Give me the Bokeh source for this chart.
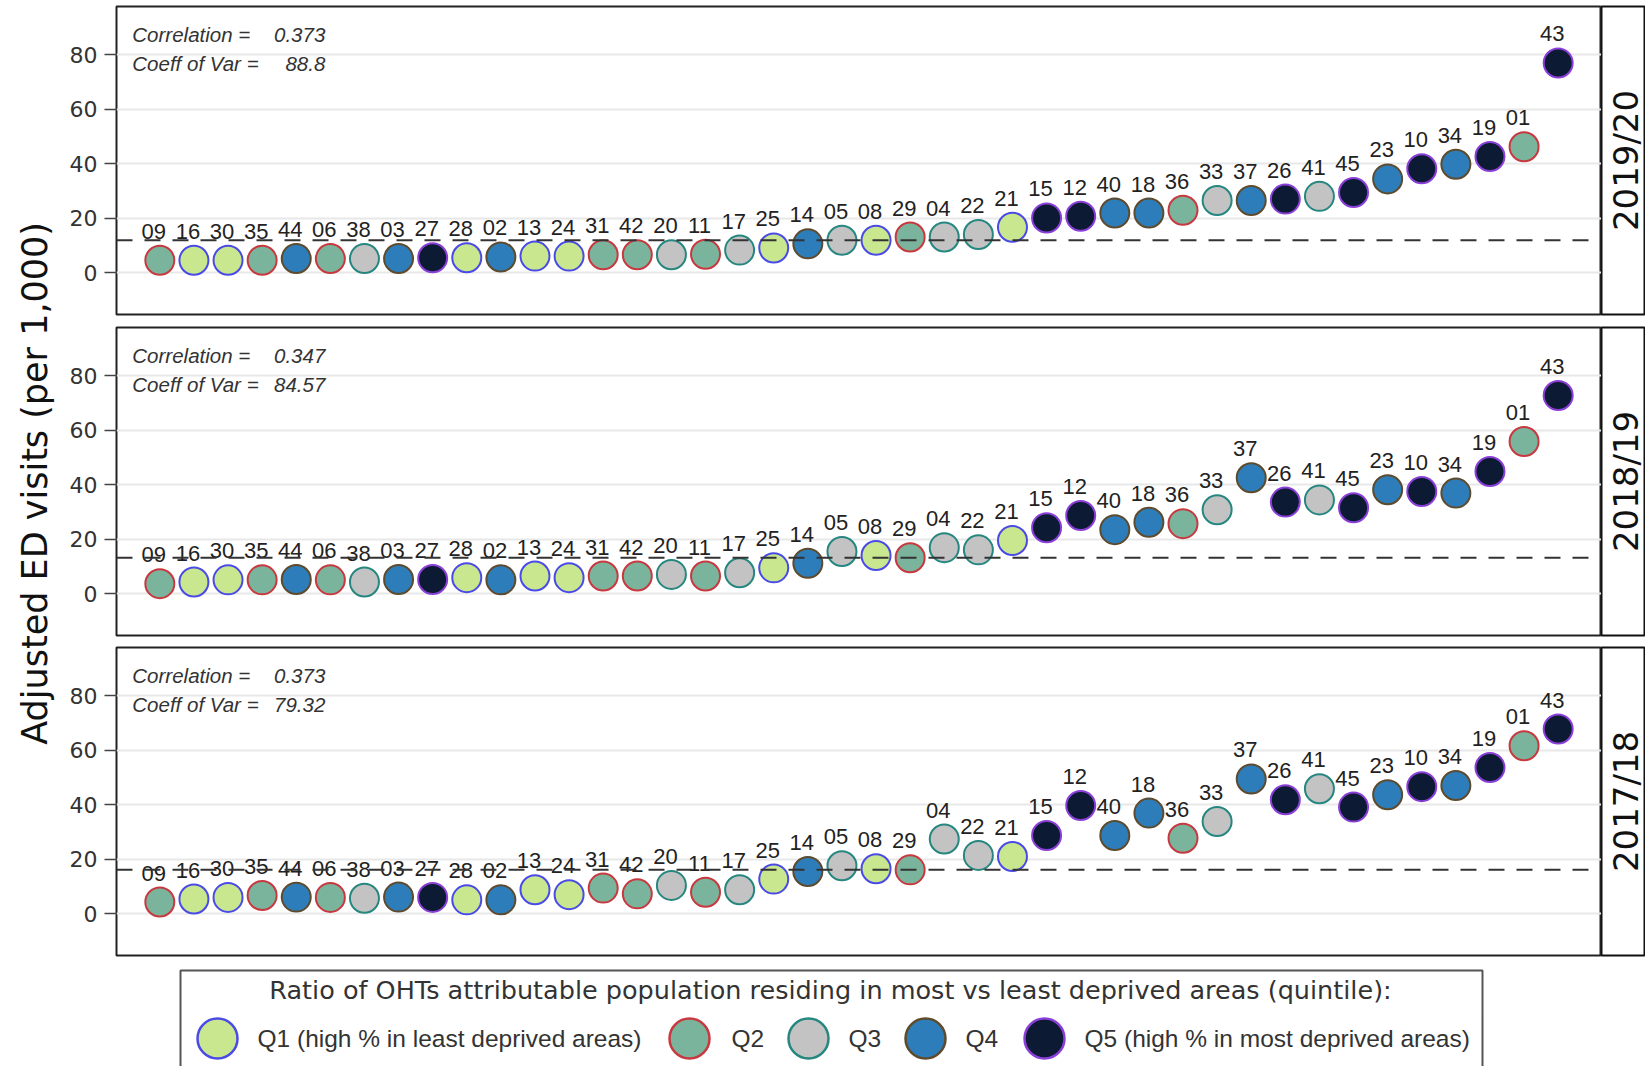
import math
from bokeh.plotting import figure
from bokeh.models import FactorRange, Range1d, FixedTicker, Span, ColumnDataSource
from bokeh.layouts import row, column
from bokeh.embed import file_html
from bokeh.resources import INLINE
from bokeh.core.properties import value

# ---------------- data ----------------
codes = ["09", "16", "30", "35", "44", "06", "38", "03", "27", "28", "02", "13", "24", "31",
         "42", "20", "11", "17", "25", "14", "05", "08", "29", "04", "22", "21", "15", "12",
         "40", "18", "36", "33", "37", "26", "41", "45", "23", "10", "34", "19", "01", "43"]

quintile = ["Q2", "Q1", "Q1", "Q2", "Q4", "Q2", "Q3", "Q4", "Q5", "Q1", "Q4", "Q1", "Q1", "Q2",
            "Q2", "Q3", "Q2", "Q3", "Q1", "Q4", "Q3", "Q1", "Q2", "Q3", "Q3", "Q1", "Q5", "Q5",
            "Q4", "Q4", "Q2", "Q3", "Q4", "Q5", "Q3", "Q5", "Q4", "Q5", "Q4", "Q5", "Q2", "Q5"]

visits_2019_20 = [4.6, 4.6, 4.6, 4.6, 5.2, 5.2, 5.2, 5.2, 5.5, 5.5, 5.8, 6.1, 6.1, 6.6,
                  6.6, 6.6, 6.8, 8.3, 9.1, 10.6, 11.9, 11.9, 13.1, 13.1, 14.0, 16.7, 20.1, 20.7,
                  21.9, 21.9, 22.9, 26.5, 26.5, 27.0, 28.0, 29.4, 34.4, 38.1, 39.8, 42.6, 46.2, 76.9]

visits_2018_19 = [3.7, 4.3, 5.1, 5.1, 5.2, 5.1, 4.3, 5.2, 5.2, 5.9, 5.1, 6.5, 5.9, 6.5,
                  6.5, 7.1, 6.5, 7.7, 9.5, 11.2, 15.5, 14.0, 13.2, 16.9, 16.1, 19.5, 24.2, 28.7,
                  23.5, 26.2, 25.7, 30.8, 42.5, 33.6, 34.4, 31.5, 38.1, 37.5, 36.9, 44.8, 55.8, 72.7]

visits_2017_18 = [4.3, 5.4, 6.0, 6.7, 6.1, 6.0, 5.7, 6.1, 6.0, 5.1, 5.1, 8.8, 7.0, 9.4,
                  7.3, 10.4, 7.9, 8.8, 12.7, 15.5, 17.6, 16.5, 16.1, 27.4, 21.4, 21.0, 28.7, 39.7,
                  28.7, 36.9, 27.7, 33.8, 49.4, 41.8, 45.8, 39.1, 43.6, 46.6, 47.0, 53.6, 61.6, 67.7]

years = ["2019/20", "2018/19", "2017/18"]
reference_line = [11.9, 13.2, 16.1]
correlation = ["0.373", "0.347", "0.373"]
coeff_of_var = ["88.8", "84.57", "79.32"]

y_ticks = [0, 20, 40, 60, 80]
y_label = "Adjusted ED visits (per 1,000)"

quintile_names = ["Q1", "Q2", "Q3", "Q4", "Q5"]
quintile_labels = ["Q1 (high % in least deprived areas)", "Q2", "Q3", "Q4",
                   "Q5 (high % in most deprived areas)"]
legend_title = "Ratio of OHTs attributable population residing in most vs least deprived areas (quintile):"

# ---------------- styles ----------------
FILL = {"Q1": "#c8e78f", "Q2": "#7ab49d", "Q3": "#c3c3c3", "Q4": "#2d7dba", "Q5": "#0c1b33"}
EDGE = {"Q1": "#4a4ae6", "Q2": "#c8393f", "Q3": "#25877f", "Q4": "#5e4b2e", "Q5": "#8b3fd9"}

YLAB_W = 58
LEFT = 58
FRAME_W = 1485
STRIP_W = 44
FRAME_H = 308
Y_START, Y_END = -15.3, 97.6
borders = [(6, 6), (7, 6), (6, 5)]
series = [visits_2019_20, visits_2018_19, visits_2017_18]
ANN_FONT = "20.5px"


def make_panel(vals, ref, corr, cov, btop, bbot):
    p = figure(width=LEFT + FRAME_W, height=btop + FRAME_H + bbot,
               x_range=FactorRange(factors=codes, range_padding=0.77,
                                   range_padding_units="absolute"),
               y_range=Range1d(Y_START, Y_END),
               x_axis_location=None, toolbar_location=None, output_backend="svg",
               min_border_left=LEFT, min_border_right=0,
               min_border_top=btop, min_border_bottom=bbot)
    p.outline_line_color = "#222222"
    p.outline_line_width = 2
    p.xgrid.visible = False
    p.ygrid.grid_line_color = "#e8e8e8"
    p.ygrid.grid_line_width = 2
    ax = p.yaxis[0]
    ax.ticker = FixedTicker(ticks=y_ticks)
    ax.axis_line_color = None
    ax.major_tick_out = 12
    ax.major_tick_in = 0
    ax.major_tick_line_color = "#444444"
    ax.major_tick_line_width = 1.5
    ax.minor_tick_line_color = None
    ax.major_label_text_font = "DejaVu Sans"
    ax.major_label_text_font_size = "22px"
    ax.major_label_text_color = "#333333"
    ax.major_label_standoff = 7

    src = ColumnDataSource(dict(
        code=codes, val=vals,
        fill=[FILL[q] for q in quintile], edge=[EDGE[q] for q in quintile]))
    p.scatter("code", "val", source=src, size=29, fill_color="fill",
              line_color="edge", line_width=2)
    p.text("code", "val", text="code", source=src, x_offset=-6, y_offset=-29,
           text_align="center", text_baseline="alphabetic",
           text_font=value("Liberation Sans"), text_font_size="22px",
           text_color="#222222")
    p.add_layout(Span(location=ref, dimension="width", line_color="#333333",
                      line_width=2, line_dash="16 12"))

    # correlation annotation anchored to top-left of the panel
    p.text(x=[codes[0], codes[0]], y=[Y_END, Y_END],
           text=["Correlation =", "Coeff of Var ="],
           x_offset=-27.5, y_offset=[28, 57],
           text_align="left", text_baseline="middle",
           text_font=value("Liberation Sans"), text_font_style="italic",
           text_font_size=ANN_FONT, text_color="#333333")
    p.text(x=[codes[0], codes[0]], y=[Y_END, Y_END],
           text=[corr, cov],
           x_offset=165.5, y_offset=[28, 57],
           text_align="right", text_baseline="middle",
           text_font=value("Liberation Sans"), text_font_style="italic",
           text_font_size=ANN_FONT, text_color="#333333")
    return p


def make_strip(label, btop, bbot):
    s = figure(width=STRIP_W, height=btop + FRAME_H + bbot,
               x_range=Range1d(0, 1), y_range=Range1d(0, 1),
               x_axis_location=None, y_axis_location=None,
               toolbar_location=None, output_backend="svg",
               min_border_left=0, min_border_right=0,
               min_border_top=btop, min_border_bottom=bbot)
    s.grid.visible = False
    s.outline_line_color = "#111111"
    s.outline_line_width = 2
    s.text(x=[0.55], y=[0.5], text=[label], angle=math.pi / 2,
           text_align="center", text_baseline="middle",
           text_font=value("DejaVu Sans"), text_font_size="34px", text_color="#111111")
    return s


rows = []
for i in range(3):
    bt, bb = borders[i]
    p = make_panel(series[i], reference_line[i], correlation[i], coeff_of_var[i], bt, bb)
    s = make_strip(years[i], bt, bb)
    rows.append(row(p, s))

total_h = sum(bt + FRAME_H + bb for bt, bb in borders)

ylab = figure(width=YLAB_W, height=total_h, x_range=Range1d(0, 1), y_range=Range1d(0, 1),
              x_axis_location=None, y_axis_location=None, toolbar_location=None,
              output_backend="svg", min_border=0)
ylab.grid.visible = False
ylab.outline_line_color = None
ylab.text(x=[0.59], y=[0.497], text=[y_label], angle=math.pi / 2,
          text_align="center", text_baseline="middle",
          text_font=value("DejaVu Sans"), text_font_size="35px", text_color="#111111")

# ---------------- legend ----------------
LEG_W = YLAB_W + LEFT + FRAME_W + STRIP_W
LEG_H = 106
leg = figure(width=LEG_W, height=LEG_H, x_range=Range1d(0, LEG_W), y_range=Range1d(LEG_H, 0),
             x_axis_location=None, y_axis_location=None, toolbar_location=None,
             output_backend="svg", min_border=0)
leg.grid.visible = False
leg.outline_line_color = None
leg.quad(left=[180], right=[1482], top=[10], bottom=[LEG_H + 20],
         fill_color=None, line_color="#555555", line_width=2)
leg.text(x=[830], y=[29], text=[legend_title], text_align="center", text_baseline="middle",
         text_font=value("DejaVu Sans"), text_font_size="25.5px", text_color="#333333")
marker_x = [217, 689, 808, 925, 1044]
label_x = [257, 731, 848, 965, 1084]
item_y = 78
leg.scatter(x=marker_x, y=[item_y] * 5, size=40,
            fill_color=[FILL[q] for q in quintile_names],
            line_color=[EDGE[q] for q in quintile_names], line_width=2.5)
leg.text(x=label_x, y=[item_y] * 5, text=quintile_labels, text_align="left",
         text_baseline="middle", text_font=value("Liberation Sans"),
         text_font_size="24.5px", text_color="#333333")

layout = column(row(ylab, column(*rows)), leg)

open("out.html", "w").write(file_html(layout, INLINE))
